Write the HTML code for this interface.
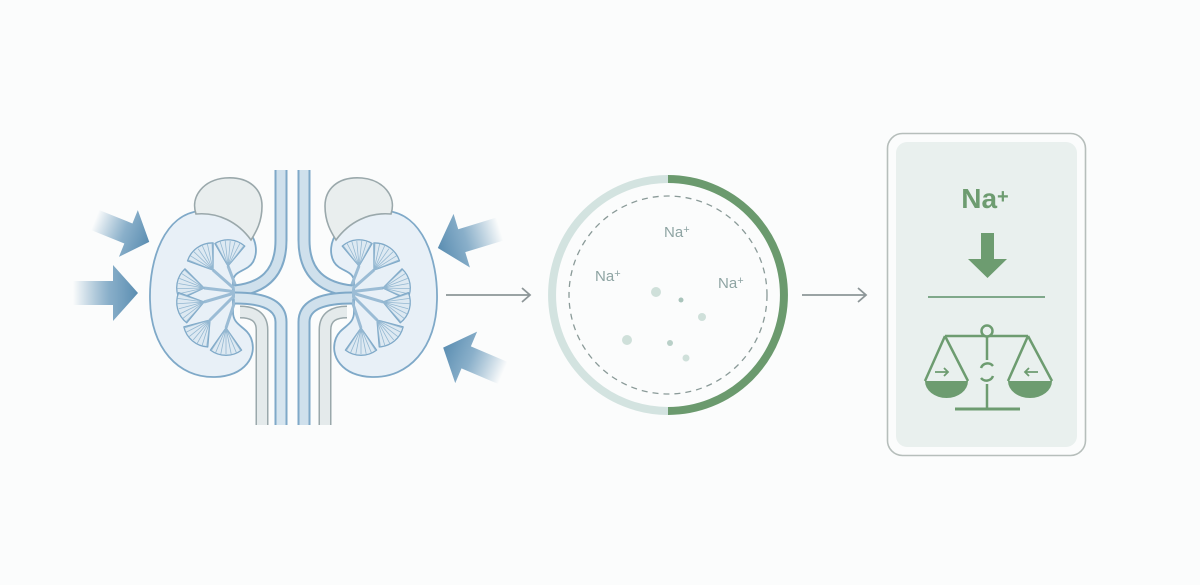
<!DOCTYPE html>
<html><head><meta charset="utf-8"><style>
html,body{margin:0;padding:0;background:#fbfcfc;}
svg{display:block;}
</style></head><body>
<svg width="1200" height="585" viewBox="0 0 1200 585" xmlns="http://www.w3.org/2000/svg">
<defs>
<linearGradient id="ga" x1="0" x2="1" y1="0" y2="0">
<stop offset="0" stop-color="#5b8fb3" stop-opacity="0"/>
<stop offset="0.55" stop-color="#6d9cbd" stop-opacity="0.8"/>
<stop offset="1" stop-color="#5a8db1"/>
</linearGradient>
<g id="arr"><path d="M0,-12 L40,-12 L40,-28 L65,0 L40,28 L40,12 L0,12 Z" fill="url(#ga)"/></g>
<g id="fan">
<path d="M0,0 L-12,-17 A20,20 0 0 1 12,-17 Z" fill="#dde9f2" stroke="#7fa9c8" stroke-width="1" stroke-linejoin="round"/>
<path d="M0,0 L-8,-19 M0,0 L-4,-20 M0,0 L0,-20 M0,0 L4,-20 M0,0 L8,-19 M0,0 L-11,-17 M0,0 L11,-17" stroke="#93b7d1" stroke-width="0.6"/>
</g>
<g id="kid">
<path d="M200,211 C165,214 149,258 150,300 C151,348 178,378 215,377 C245,376 258,356 251,338 C246,326 233,326 233,312 L233,282 C233,270 247,272 253,262 C262,246 252,214 200,211 Z" fill="#e8f0f7" stroke="#7fa9c8" stroke-width="1.8"/>
<path d="M196,214 C190,196 204,180 225,178 C250,176 262,190 262,206 C262,222 256,232 251,240 C238,222 218,212 196,214 Z" fill="#e9eeee" stroke="#9aa8ab" stroke-width="1.6"/>
<path d="M238,292 L204,288 M238,292 L204,302 M238,292 L228,266 M238,292 L213,270 M238,292 L210,320 M238,292 L226,328" stroke="#9bbcd5" stroke-width="3" fill="none"/>
<use href="#fan" transform="translate(213,270) rotate(-35) scale(1.3)"/>
<use href="#fan" transform="translate(228,266) rotate(5) scale(1.25)"/>
<use href="#fan" transform="translate(204,288) rotate(-80) scale(1.3)"/>
<use href="#fan" transform="translate(204,302) rotate(-105) scale(1.3)"/>
<use href="#fan" transform="translate(210,320) rotate(-140) scale(1.3)"/>
<use href="#fan" transform="translate(226,328) rotate(-180) scale(1.3)"/>
<path d="M262,425 L262,330 C262,316 252,312 240,312" fill="none" stroke="#9aa8ab" stroke-width="13"/>
<path d="M262,425 L262,330 C262,316 252,312 240,312" fill="none" stroke="#e4eaeb" stroke-width="10"/>
</g>
</defs>
<use href="#kid"/>
<use href="#kid" transform="translate(587,0) scale(-1,1)"/>
<g fill="none">
<path d="M281,170 L281,240 C281,275 262,288 235,291" stroke="#7fa9c8" stroke-width="13"/>
<path d="M281,170 L281,240 C281,275 262,288 235,291" stroke="#cfe0ec" stroke-width="9"/>
<path d="M304,170 L304,240 C304,275 324,288 352,291" stroke="#7fa9c8" stroke-width="13"/>
<path d="M304,170 L304,240 C304,275 324,288 352,291" stroke="#cfe0ec" stroke-width="9"/>
<path d="M281,425 L281,322 C281,304 262,298 235,298" stroke="#7fa9c8" stroke-width="13"/>
<path d="M281,425 L281,322 C281,304 262,298 235,298" stroke="#d6e5ef" stroke-width="9"/>
<path d="M304,425 L304,322 C304,304 324,298 352,298" stroke="#7fa9c8" stroke-width="13"/>
<path d="M304,425 L304,322 C304,304 324,298 352,298" stroke="#cfe0ec" stroke-width="9"/>
</g>
<use href="#arr" transform="translate(95,220) rotate(22) scale(0.9)"/>
<use href="#arr" transform="translate(73,293)"/>
<use href="#arr" transform="translate(500,229) rotate(163)"/>
<use href="#arr" transform="translate(503,373) rotate(-157)"/>
<g stroke="#8d9698" stroke-width="1.8" fill="none">
<path d="M446,295 L530,295 M522,288 L530,295 L522,302"/>
<path d="M802,295 L866,295 M858,288 L866,295 L858,302"/>
</g>
<path d="M668,179 A114,114 0 0 0 668,411" fill="none" stroke="#d3e3e0" stroke-width="8"/>
<path d="M668,179 A114,114 0 0 1 668,411" fill="none" stroke="#6b9a6e" stroke-width="8"/>
<circle cx="668" cy="295" r="99" fill="none" stroke="#8a9a98" stroke-width="1.3" stroke-dasharray="6,5"/>
<g font-family="Liberation Sans, sans-serif" font-size="15" fill="#8ea4a3">
<text x="664" y="237">Na<tspan font-size="11" dy="-4">+</tspan></text>
<text x="595" y="281">Na<tspan font-size="11" dy="-4">+</tspan></text>
<text x="718" y="288">Na<tspan font-size="11" dy="-4">+</tspan></text>
</g>
<g fill="#cfe0da">
<circle cx="656" cy="292" r="5"/><circle cx="681" cy="300" r="2.5" fill="#a9c4bb"/>
<circle cx="702" cy="317" r="4"/><circle cx="627" cy="340" r="5"/>
<circle cx="670" cy="343" r="3" fill="#b9d0c8"/><circle cx="686" cy="358" r="3.5"/>
</g>
<rect x="887.5" y="133.5" width="198" height="322" rx="15" fill="#fbfcfc" stroke="#b6bebb" stroke-width="1.6"/>
<rect x="896" y="142" width="181" height="305" rx="11" fill="#e9f0ee"/>
<text x="985" y="208" text-anchor="middle" font-family="Liberation Sans, sans-serif" font-weight="bold" font-size="28" fill="#6d9c70">Na<tspan font-size="20" dy="-5">+</tspan></text>
<path d="M981,233 L994,233 L994,259 L1007,259 L987.5,278 L968,259 L981,259 Z" fill="#6d9c70"/>
<line x1="928" y1="297" x2="1045" y2="297" stroke="#7fa88a" stroke-width="2"/>
<g stroke="#6d9c70" stroke-width="2.5" fill="none">
<line x1="945" y1="336" x2="1028" y2="336"/>
<circle cx="987" cy="331" r="5.5" fill="#e9f0ee"/>
<path d="M987,337 L987,360 M987,384 L987,408"/>
<path d="M981,368 A7,7 0 0 1 993,366 M993,376 A7,7 0 0 1 981,378"/>
<line x1="955" y1="409" x2="1020" y2="409" stroke-width="3"/>
<path d="M945,336 L925,381 M945,336 L968,381 M1028,336 L1008,381 M1028,336 L1052,381"/>
<path d="M935,372 L948,372 M944,368 L948,372 L944,376" stroke-width="1.8"/>
<path d="M1038,372 L1025,372 M1029,368 L1025,372 L1029,376" stroke-width="1.8"/>
</g>
<path d="M925,381 L968,381 A21.5,17 0 0 1 925,381 Z" fill="#6d9c70"/>
<path d="M1008,381 L1052,381 A22,17 0 0 1 1008,381 Z" fill="#6d9c70"/>
</svg>
</body></html>
